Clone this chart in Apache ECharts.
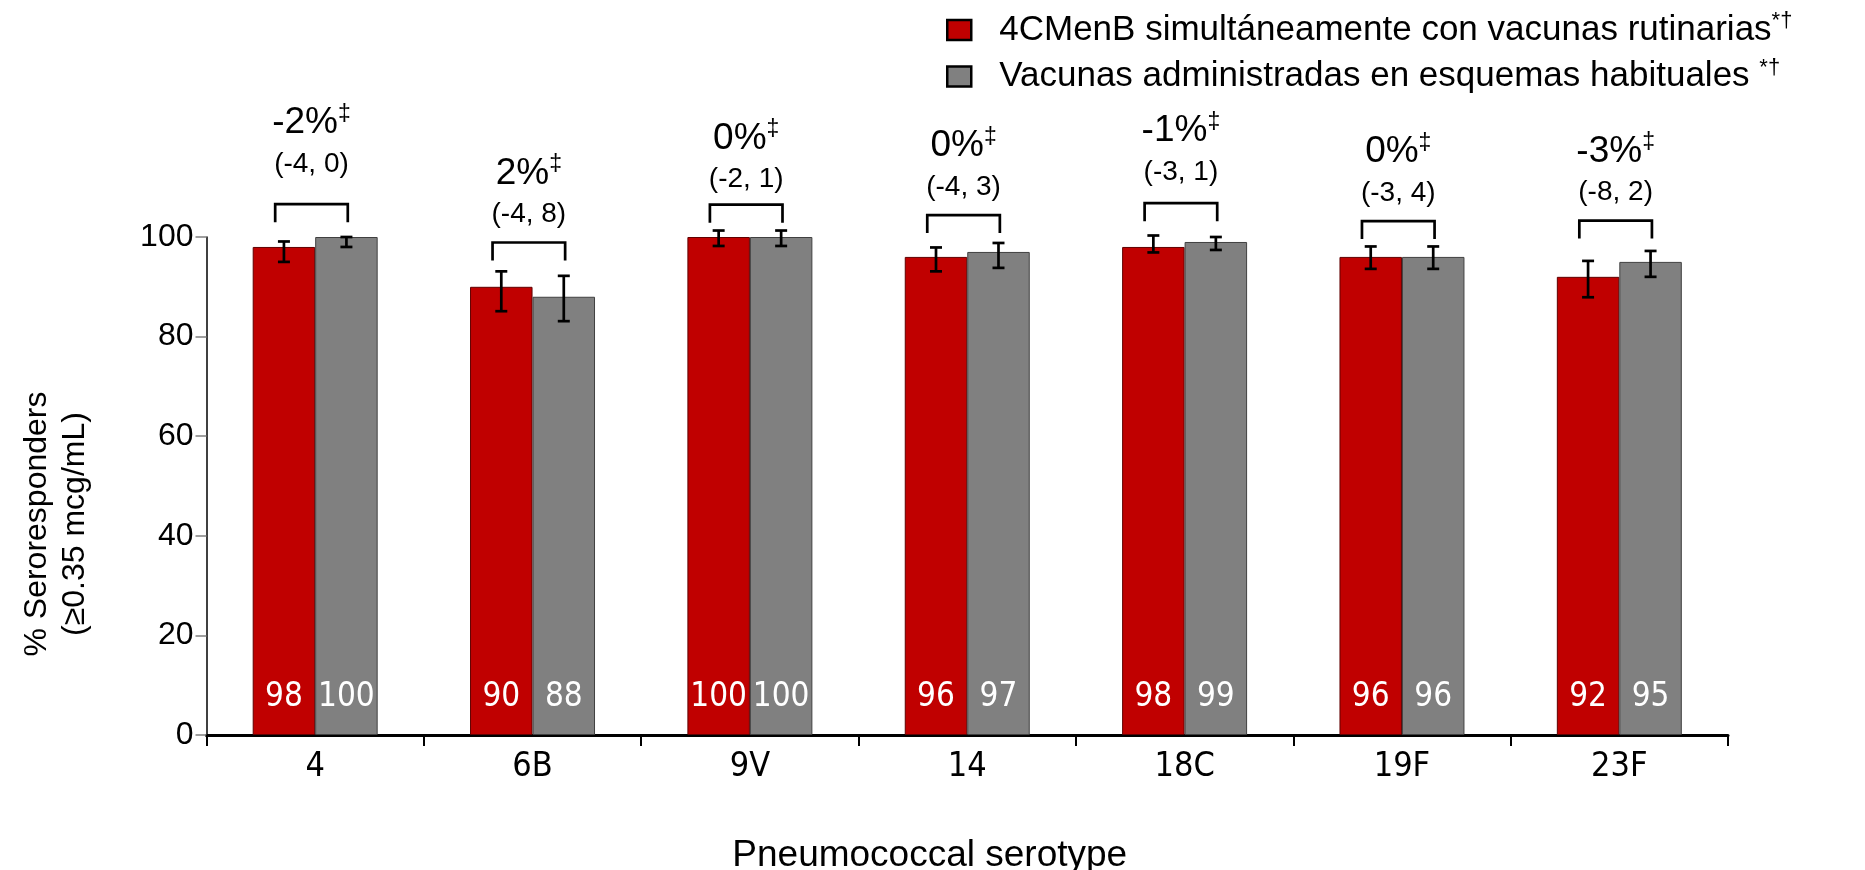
<!DOCTYPE html>
<html>
<head>
<meta charset="utf-8">
<script src="https://cdn.jsdelivr.net/npm/echarts@6/dist/echarts.min.js"></script>
<style>
html,body{margin:0;padding:0;background:#fff;}
#chart{width:1865px;height:870px;}
</style>
</head>
<body>
<div id="chart"></div>
<script>
// ---- data ----
const categories = ['4', '6B', '9V', '14', '18C', '19F', '23F'];
const seriesNames = ['4CMenB simultáneamente con vacunas rutinarias', 'Vacunas administradas en esquemas habituales '];
const menbValues = [98, 90, 100, 96, 98, 96, 92];
const routineValues = [100, 88, 100, 97, 99, 96, 95];
const menbLow = [95, 85.1, 98.2, 93.1, 96.9, 93.6, 87.9];
const menbHigh = [99.1, 93.1, 101.3, 97.9, 100.3, 98.1, 95.2];
const routineLow = [98, 83.1, 98.2, 93.8, 97.4, 93.6, 92];
const routineHigh = [100, 92.2, 101.3, 98.8, 100, 98.1, 97.2];
const diffLabels = ['-2%', '2%', '0%', '0%', '-1%', '0%', '-3%'];
const ciLabels = ['(-4, 0)', '(-4, 8)', '(-2, 1)', '(-4, 3)', '(-3, 1)', '(-3, 4)', '(-8, 2)'];
const bracketLevels = [106.6, 98.9, 106.5, 104.4, 106.8, 103.2, 103.3];
const yTicks = { min: 0, max: 100, interval: 20 };

// ---- layout ----
const ARIAL = '"Liberation Sans", Arial, sans-serif';
const NARROW = '"DejaVu Sans Condensed", "DejaVu Sans", sans-serif';
const catGap = 0.425;
const labelLift = [12, 0, -3, 0, 3, 0, 0];

const chart = echarts.init(document.getElementById('chart'), null, { renderer: 'canvas' });

function errorRender(dir) {
  return function (params, api) {
    const i = api.value(0);
    const lo = api.coord([i, api.value(1)]);
    const hi = api.coord([i, api.value(2)]);
    const catW = api.size([1, 0])[0];
    const barW = catW * (1 - catGap) / 2;
    const x = lo[0] + dir * barW / 2;
    const cap = 6;
    const st = { stroke: '#000', lineWidth: 2.7, fill: null };
    return {
      type: 'group',
      children: [
        { type: 'line', shape: { x1: x, y1: lo[1], x2: x, y2: hi[1] }, style: st },
        { type: 'line', shape: { x1: x - cap, y1: lo[1], x2: x + cap, y2: lo[1] }, style: st },
        { type: 'line', shape: { x1: x - cap, y1: hi[1], x2: x + cap, y2: hi[1] }, style: st }
      ]
    };
  };
}

function bracketRender(params, api) {
  const i = api.value(0);
  const p = api.coord([i, api.value(1)]);
  const catW = api.size([1, 0])[0];
  const left = p[0] - catW * 0.184;
  const right = p[0] + catW * 0.150;
  const cx = (left + right) / 2;
  const top = p[1];
  const leg = 18;
  const lift = labelLift[i] || 0;
  return {
    type: 'group',
    children: [
      {
        type: 'polyline',
        shape: { points: [[left, top + leg], [left, top], [right, top], [right, top + leg]] },
        style: { stroke: '#000', lineWidth: 2.7, fill: null }
      },
      {
        type: 'text',
        style: {
          text: ciLabels[i], x: cx, y: top - 28 - lift,
          align: 'center', verticalAlign: 'middle',
          fontSize: 28, fontFamily: ARIAL, fill: '#000'
        }
      },
      {
        type: 'text',
        style: {
          text: '{a|' + diffLabels[i] + '}{s|‡}', x: cx, y: top - 69 - lift,
          align: 'center', verticalAlign: 'middle', fill: '#000',
          rich: {
            a: { fontSize: 37, fontFamily: ARIAL, lineHeight: 40, fill: '#000', color: '#000' },
            s: { fontSize: 23, fontFamily: ARIAL, lineHeight: 22, verticalAlign: 'top', fill: '#000', color: '#000' }
          }
        }
      }
    ]
  };
}

const barLabel = {
  show: true, position: 'insideBottom', distance: 21,
  color: '#fff', fontSize: 33, fontFamily: NARROW
};

const option = {
  animation: false,
  backgroundColor: '#fff',
  grid: { left: 206.5, right: 137, top: 237, bottom: 135, containLabel: false, outerBoundsMode: 'none' },
  legend: {
    orient: 'vertical', left: 946, top: 10, padding: 0,
    itemWidth: 24, itemHeight: 20, itemGap: 9,
    icon: 'rect',
    itemStyle: { borderColor: '#000', borderWidth: 2.5 },
    data: seriesNames,
    formatter: function (name) { return '{a|' + name + '}{s|*†}'; },
    textStyle: {
      color: '#000', fontFamily: ARIAL, fontSize: 35, padding: [0, 0, 0, 0],
      rich: {
        a: { fontSize: 35, fontFamily: ARIAL, color: '#000', lineHeight: 40, padding: [0, 0, 0, 23] },
        s: { fontSize: 22, fontFamily: ARIAL, color: '#000', lineHeight: 22, verticalAlign: 'top' }
      }
    }
  },
  xAxis: {
    type: 'category',
    data: categories,
    name: 'Pneumococcal serotype',
    nameLocation: 'middle',
    nameGap: 102,
    nameTextStyle: { fontSize: 37, fontFamily: ARIAL, color: '#000', padding: [0, 75, 0, 0] },
    axisLine: { lineStyle: { color: '#000', width: 3 } },
    axisTick: { show: true, length: 11, lineStyle: { color: '#000', width: 2 } },
    axisLabel: { fontSize: 34, fontFamily: NARROW, color: '#000', margin: 15 }
  },
  yAxis: {
    type: 'value',
    min: yTicks.min, max: yTicks.max, interval: yTicks.interval,
    name: '% Seroresponders\n(≥0.35 mcg/mL)',
    nameLocation: 'middle',
    nameRotate: 90,
    nameGap: 112,
    nameTextStyle: { fontSize: 32, fontFamily: ARIAL, color: '#000', lineHeight: 38, padding: [0, 76, 0, 0] },
    axisLine: { show: true, lineStyle: { color: '#000', width: 1.5 } },
    axisTick: { show: true, length: 11, lineStyle: { color: '#808080', width: 1.5 } },
    splitLine: { show: false },
    axisLabel: { fontSize: 32, fontFamily: ARIAL, color: '#000', margin: 13 }
  },
  series: [
    {
      name: seriesNames[0], type: 'bar', data: menbValues,
      barGap: '0%', barCategoryGap: (catGap * 100) + '%',
      itemStyle: { color: '#C00000', borderColor: '#600000', borderWidth: 1 },
      label: barLabel
    },
    {
      name: seriesNames[1], type: 'bar', data: routineValues,
      itemStyle: { color: '#808080', borderColor: '#404040', borderWidth: 1 },
      label: barLabel
    },
    {
      type: 'custom', renderItem: errorRender(-1), z: 5,
      data: categories.map((c, i) => [i, menbLow[i], menbHigh[i]])
    },
    {
      type: 'custom', renderItem: errorRender(1), z: 5,
      data: categories.map((c, i) => [i, routineLow[i], routineHigh[i]])
    },
    {
      type: 'custom', renderItem: bracketRender, z: 5, clip: false,
      data: categories.map((c, i) => [i, bracketLevels[i]])
    }
  ]
};
chart.setOption(option);
</script>
</body>
</html>
